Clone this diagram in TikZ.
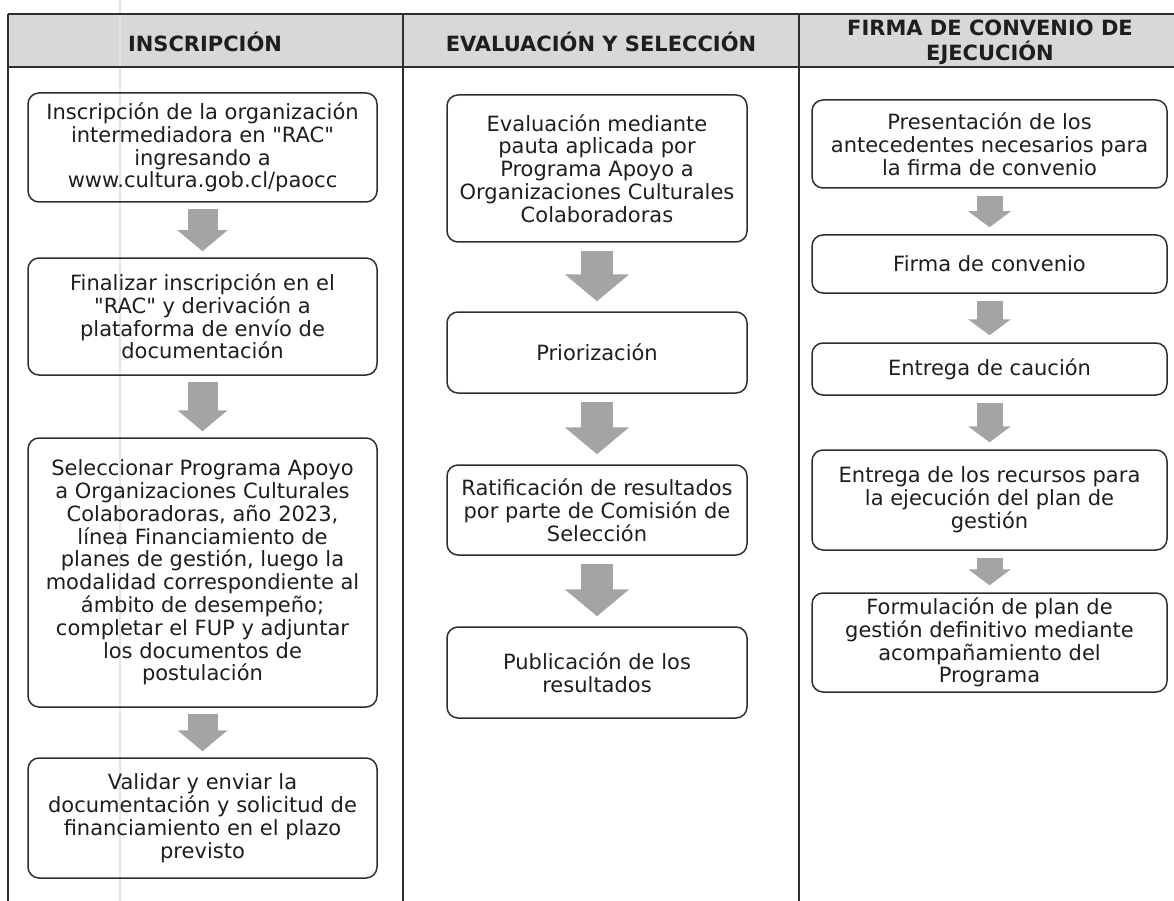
\documentclass[tikz,border=0pt]{standalone}
\usepackage{fontspec}
\setmainfont{DejaVu Sans}[Ligatures=TeXOff]
\usetikzlibrary{arrows.meta}
\definecolor{hdr}{HTML}{D8D8D8}
\definecolor{arrg}{HTML}{A4A4A4}
\definecolor{ln}{HTML}{2E2E2E}
\definecolor{txt}{HTML}{1E1E1E}
\begin{document}
\begin{tikzpicture}[x=1pt,y=-1pt,
  box/.style={draw=ln, line width=1.5pt, rounded corners=11pt, align=center,
    text=txt, inner sep=0pt, font=\fontsize{21}{22.8}\selectfont},
  lbox/.style={box, minimum width=349pt},
  mbox/.style={box, minimum width=300pt},
  rbox/.style={box, minimum width=355pt},
  hd/.style={align=center, text=txt, font=\bfseries\fontsize{21}{25}\selectfont},
  tline/.style={draw=ln, line width=1.3pt},
  larr/.style={draw=arrg, line width=30pt, -{Triangle[width=49pt,length=21pt]}, shorten <=6pt, shorten >=6pt},
  marr/.style={draw=arrg, line width=32pt, -{Triangle[width=63pt,length=27pt]}, shorten <=8pt, shorten >=10pt},
  rarr/.style={draw=arrg, line width=26pt, -{Triangle[width=42pt,length=16pt]}, shorten <=7pt, shorten >=7pt}
]
\useasboundingbox (0,0) rectangle (1174,901);
% header band
\fill[hdr] (8,14) rectangle (1174,67);
% faint scan line
\draw[black!10, line width=1.2pt] (120,0) -- (120,901);
% table lines
\draw[tline] (8,14) -- (1174,14);
\draw[tline] (8,67) -- (1174,67);
\draw[tline] (8,14) -- (8,901);
\draw[tline] (403,14) -- (403,901);
\draw[tline] (799,14) -- (799,901);
% headers
\node[hd] (h1) at (205,42) {INSCRIPCIÓN};
\node[hd] (h2) at (601,42) {EVALUACIÓN Y SELECCIÓN};
\node[hd] (h3) at (990,42) {FIRMA DE CONVENIO DE\\EJECUCIÓN};
% left column
\node[lbox, minimum height=109pt] (L1) at (202.5,147.5)
  {Inscripción de la organización\\intermediadora en "RAC"\\ingresando a\\www.cultura.gob.cl/paocc};
\node[lbox, minimum height=117pt] (L2) at (202.5,316.5)
  {Finalizar inscripción en el\\"RAC" y derivación a\\plataforma de envío de\\documentación};
\node[lbox, minimum height=269pt] (L3) at (202.5,572.5)
  {Seleccionar Programa Apoyo\\a Organizaciones Culturales\\Colaboradoras, año 2023,\\línea Financiamiento de\\planes de gestión, luego la\\modalidad correspondiente al\\ámbito de desempeño;\\completar el FUP y adjuntar\\los documentos de\\postulación};
\node[lbox, minimum height=120pt] (L4) at (202.5,818)
  {Validar y enviar la\\documentación y solicitud de\\financiamiento en el plazo\\previsto};
% middle column
\node[mbox, minimum height=147pt] (M1) at (597,168.5)
  {Evaluación mediante\\pauta aplicada por\\Programa Apoyo a\\Organizaciones Culturales\\Colaboradoras};
\node[mbox, minimum height=81pt] (M2) at (597,352.5) {Priorización};
\node[mbox, minimum height=90pt] (M3) at (597,510)
  {Ratificación de resultados\\por parte de Comisión de\\Selección};
\node[mbox, minimum height=91pt] (M4) at (597,672.5)
  {Publicación de los\\resultados};
% right column
\node[rbox, minimum height=88pt] (R1) at (989.5,144)
  {Presentación de los\\antecedentes necesarios para\\la firma de convenio};
\node[rbox, minimum height=58pt] (R2) at (989.5,264) {Firma de convenio};
\node[rbox, minimum height=52pt] (R3) at (989.5,369) {Entrega de caución};
\node[rbox, minimum height=100pt] (R4) at (989.5,500)
  {Entrega de los recursos para\\la ejecución del plan de\\gestión};
\node[rbox, minimum height=99pt] (R5) at (989.5,642.5)
  {Formulación de plan de\\gestión definitivo mediante\\acompañamiento del\\Programa};
% arrows
\draw[larr] (L1) -- (L2);
\draw[larr] (L2) -- (L3);
\draw[larr] (L3) -- (L4);
\draw[marr] (M1) -- (M2);
\draw[marr] (M2) -- (M3);
\draw[marr] (M3) -- (M4);
\draw[rarr] (R1) -- (R2);
\draw[rarr] (R2) -- (R3);
\draw[rarr] (R3) -- (R4);
\draw[rarr] (R4) -- (R5);
\end{tikzpicture}
\end{document}
